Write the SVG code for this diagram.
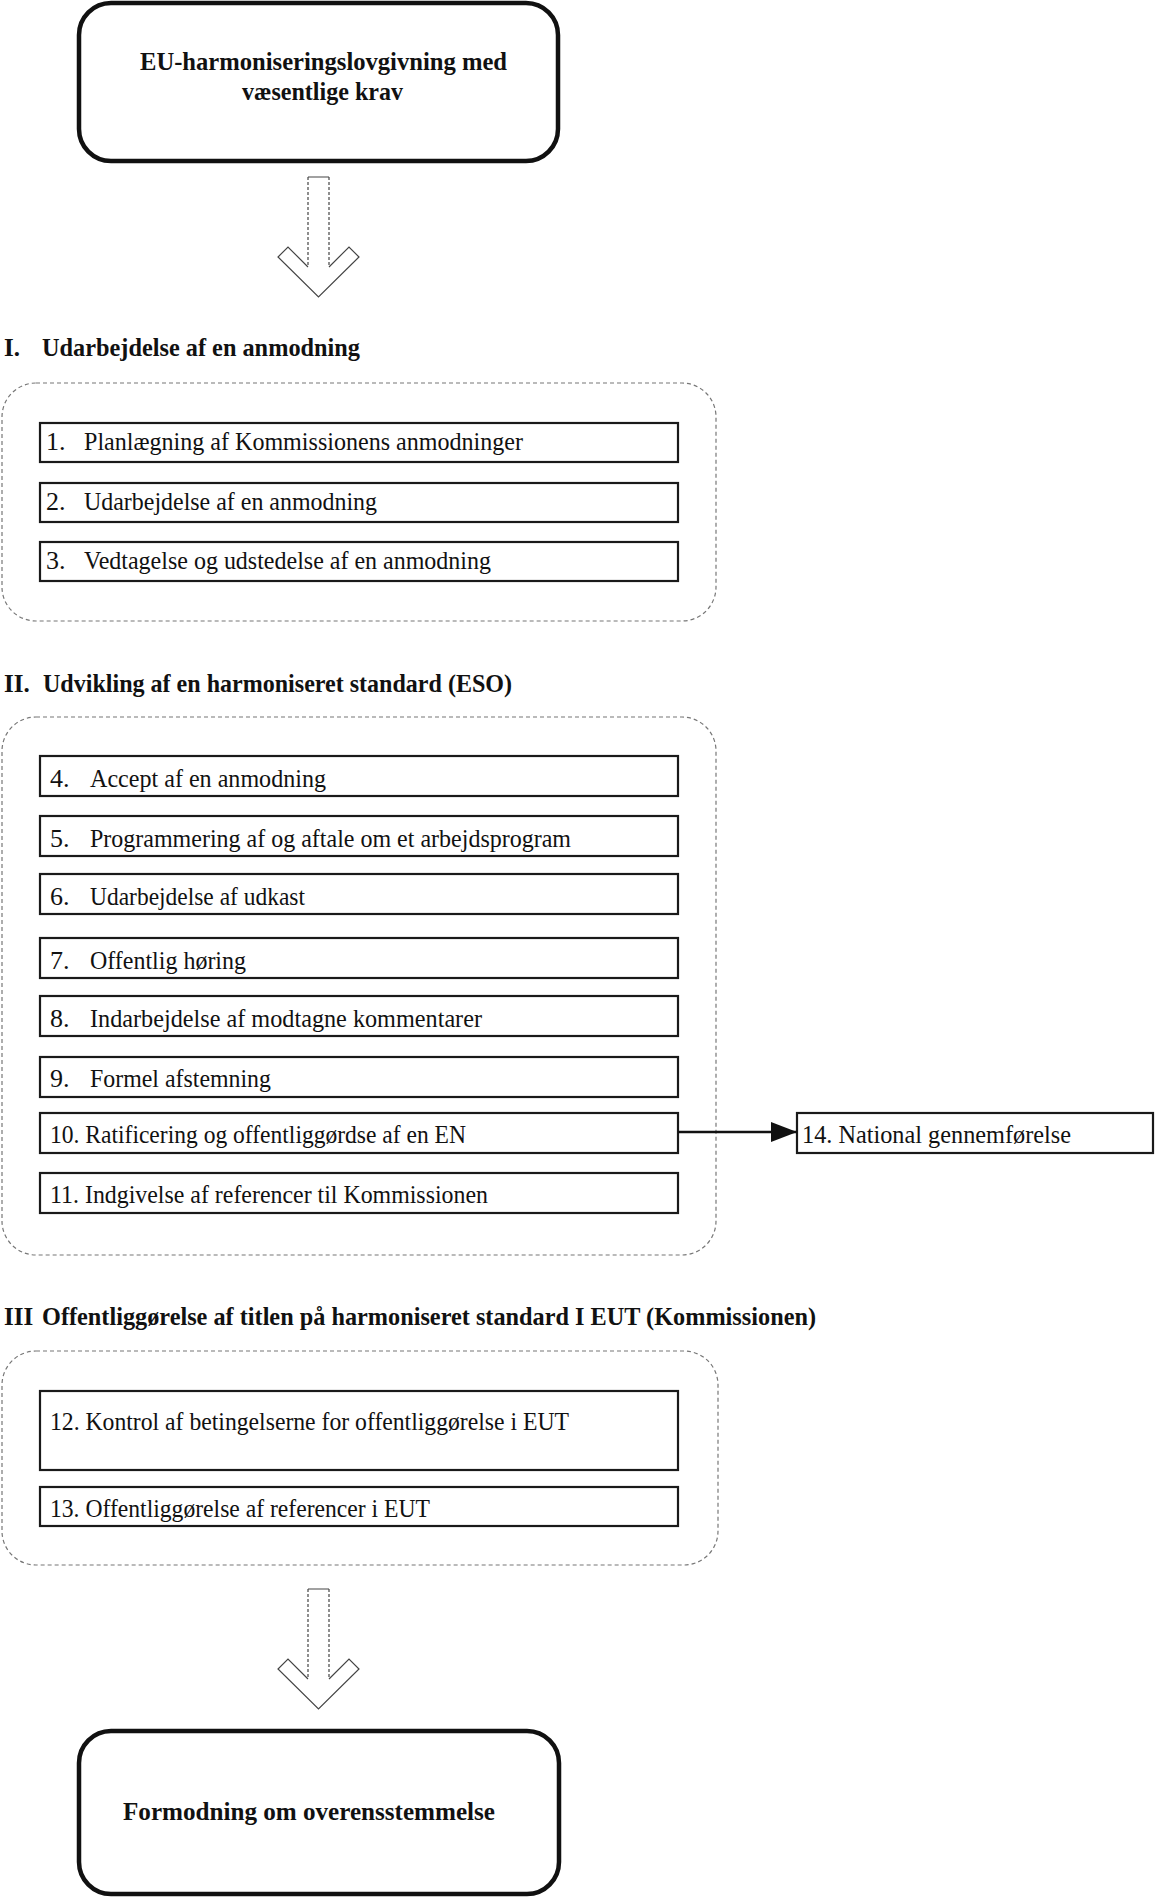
<svg xmlns="http://www.w3.org/2000/svg" width="1155" height="1899" viewBox="0 0 1155 1899">
<style>
.frame{fill:#fff;stroke:#111;stroke-width:4.5}
.group{fill:none;stroke:#777;stroke-width:1.2;stroke-dasharray:4 3}
.step{fill:#fff;stroke:#1a1a1a;stroke-width:2.2}
.big{font-family:"Liberation Serif",serif;font-weight:bold;font-size:25px;fill:#111}
.title{font-family:"Liberation Serif",serif;font-weight:bold;font-size:25px;fill:#111}
.txt{font-family:"Liberation Serif",serif;font-size:26px;fill:#111}
.head{fill:none;stroke:#444;stroke-width:1.2}
.shaft{fill:none;stroke:#444;stroke-width:1.2;stroke-dasharray:3 2}
.link{fill:none;stroke:#111;stroke-width:2.5}
</style>
<defs>
<marker id="tri" viewBox="0 0 26 20" refX="26" refY="10" markerWidth="26" markerHeight="20" markerUnits="userSpaceOnUse" orient="auto">
<path d="M0,0 L26,10 L0,20 Z" fill="#111"/>
</marker>
</defs>
<rect width="1155" height="1899" fill="#fff"/>

<g id="start">
<rect class="frame" x="79" y="3" width="479" height="158" rx="32"/>
<text class="big" x="140" y="70" textLength="367" lengthAdjust="spacingAndGlyphs">EU-harmoniseringslovgivning med</text>
<text class="big" x="242" y="100" textLength="161" lengthAdjust="spacingAndGlyphs">væsentlige krav</text>
</g>

<g id="section1">
<text class="title" x="4" y="356">I.</text>
<text class="title" x="42" y="356" textLength="318" lengthAdjust="spacingAndGlyphs">Udarbejdelse af en anmodning</text>
<rect class="group" x="2" y="383" width="714" height="238" rx="34"/>
</g>
<g id="step1">
<rect class="step" x="40" y="423" width="638" height="39"/>
<text class="txt" x="46" y="450">1.</text>
<text class="txt" x="84" y="450" textLength="439" lengthAdjust="spacingAndGlyphs">Planlægning af Kommissionens anmodninger</text>
</g>
<g id="step2">
<rect class="step" x="40" y="483" width="638" height="39"/>
<text class="txt" x="46" y="510">2.</text>
<text class="txt" x="84" y="510" textLength="293" lengthAdjust="spacingAndGlyphs">Udarbejdelse af en anmodning</text>
</g>
<g id="step3">
<rect class="step" x="40" y="542" width="638" height="39"/>
<text class="txt" x="46" y="569">3.</text>
<text class="txt" x="84" y="569" textLength="407" lengthAdjust="spacingAndGlyphs">Vedtagelse og udstedelse af en anmodning</text>
</g>

<g id="section2">
<text class="title" x="4" y="692">II.</text>
<text class="title" x="43" y="692" textLength="469" lengthAdjust="spacingAndGlyphs">Udvikling af en harmoniseret standard (ESO)</text>
<rect class="group" x="2" y="717" width="714" height="538" rx="34"/>
</g>
<g id="step4">
<rect class="step" x="40" y="756" width="638" height="40"/>
<text class="txt" x="50" y="787">4.</text>
<text class="txt" x="90" y="787" textLength="236" lengthAdjust="spacingAndGlyphs">Accept af en anmodning</text>
</g>
<g id="step5">
<rect class="step" x="40" y="816" width="638" height="40"/>
<text class="txt" x="50" y="847">5.</text>
<text class="txt" x="90" y="847" textLength="481" lengthAdjust="spacingAndGlyphs">Programmering af og aftale om et arbejdsprogram</text>
</g>
<g id="step6">
<rect class="step" x="40" y="874" width="638" height="40"/>
<text class="txt" x="50" y="905">6.</text>
<text class="txt" x="90" y="905" textLength="215" lengthAdjust="spacingAndGlyphs">Udarbejdelse af udkast</text>
</g>
<g id="step7">
<rect class="step" x="40" y="938" width="638" height="40"/>
<text class="txt" x="50" y="969">7.</text>
<text class="txt" x="90" y="969" textLength="156" lengthAdjust="spacingAndGlyphs">Offentlig høring</text>
</g>
<g id="step8">
<rect class="step" x="40" y="996" width="638" height="40"/>
<text class="txt" x="50" y="1027">8.</text>
<text class="txt" x="90" y="1027" textLength="392" lengthAdjust="spacingAndGlyphs">Indarbejdelse af modtagne kommentarer</text>
</g>
<g id="step9">
<rect class="step" x="40" y="1057" width="638" height="40"/>
<text class="txt" x="50" y="1087">9.</text>
<text class="txt" x="90" y="1087" textLength="181" lengthAdjust="spacingAndGlyphs">Formel afstemning</text>
</g>
<g id="step10">
<rect class="step" x="40" y="1113" width="638" height="40"/>
<text class="txt" x="50" y="1143" textLength="416" lengthAdjust="spacingAndGlyphs">10. Ratificering og offentliggørdse af en EN</text>
</g>
<g id="step11">
<rect class="step" x="40" y="1173" width="638" height="40"/>
<text class="txt" x="50" y="1203" textLength="438" lengthAdjust="spacingAndGlyphs">11. Indgivelse af referencer til Kommissionen</text>
</g>
<g id="step14">
<rect class="step" x="797" y="1113" width="356" height="40"/>
<text class="txt" x="802" y="1143" textLength="269" lengthAdjust="spacingAndGlyphs">14. National gennemførelse</text>
</g>

<g id="section3">
<text class="title" x="4" y="1325">III</text>
<text class="title" x="42" y="1325" textLength="774" lengthAdjust="spacingAndGlyphs">Offentliggørelse af titlen på harmoniseret standard I EUT (Kommissionen)</text>
<rect class="group" x="2" y="1351" width="716" height="214" rx="34"/>
</g>
<g id="step12">
<rect class="step" x="40" y="1391" width="638" height="79"/>
<text class="txt" x="50" y="1430" textLength="519" lengthAdjust="spacingAndGlyphs">12. Kontrol af betingelserne for offentliggørelse i EUT</text>
</g>
<g id="step13">
<rect class="step" x="40" y="1487" width="638" height="39"/>
<text class="txt" x="50" y="1517" textLength="380" lengthAdjust="spacingAndGlyphs">13. Offentliggørelse af referencer i EUT</text>
</g>

<g id="end">
<rect class="frame" x="79" y="1731" width="480" height="163" rx="32"/>
<text class="big" x="123" y="1820" textLength="372" lengthAdjust="spacingAndGlyphs">Formodning om overensstemmelse</text>
</g>

<g id="connectors">
<g id="bigarrow1">
<polygon points="308,177 329,177 329,267 349,247 359,257 318.5,297 278,257 288,247 308,267" fill="#fff"/>
<path class="head" d="M308,177 H329 M329,267 L349,247 L359,257 L318.5,297 L278,257 L288,247 L308,267"/>
<path class="shaft" d="M308,177 V267 M329,177 V267"/>
</g>
<g id="bigarrow2">
<polygon points="308,1589 329,1589 329,1679 349,1659 359,1669 318.5,1709 278,1669 288,1659 308,1679" fill="#fff"/>
<path class="head" d="M308,1589 H329 M329,1679 L349,1659 L359,1669 L318.5,1709 L278,1669 L288,1659 L308,1679"/>
<path class="shaft" d="M308,1589 V1679 M329,1589 V1679"/>
</g>
<line class="link" x1="678" y1="1132" x2="797" y2="1132" marker-end="url(#tri)"/>
</g>
</svg>
